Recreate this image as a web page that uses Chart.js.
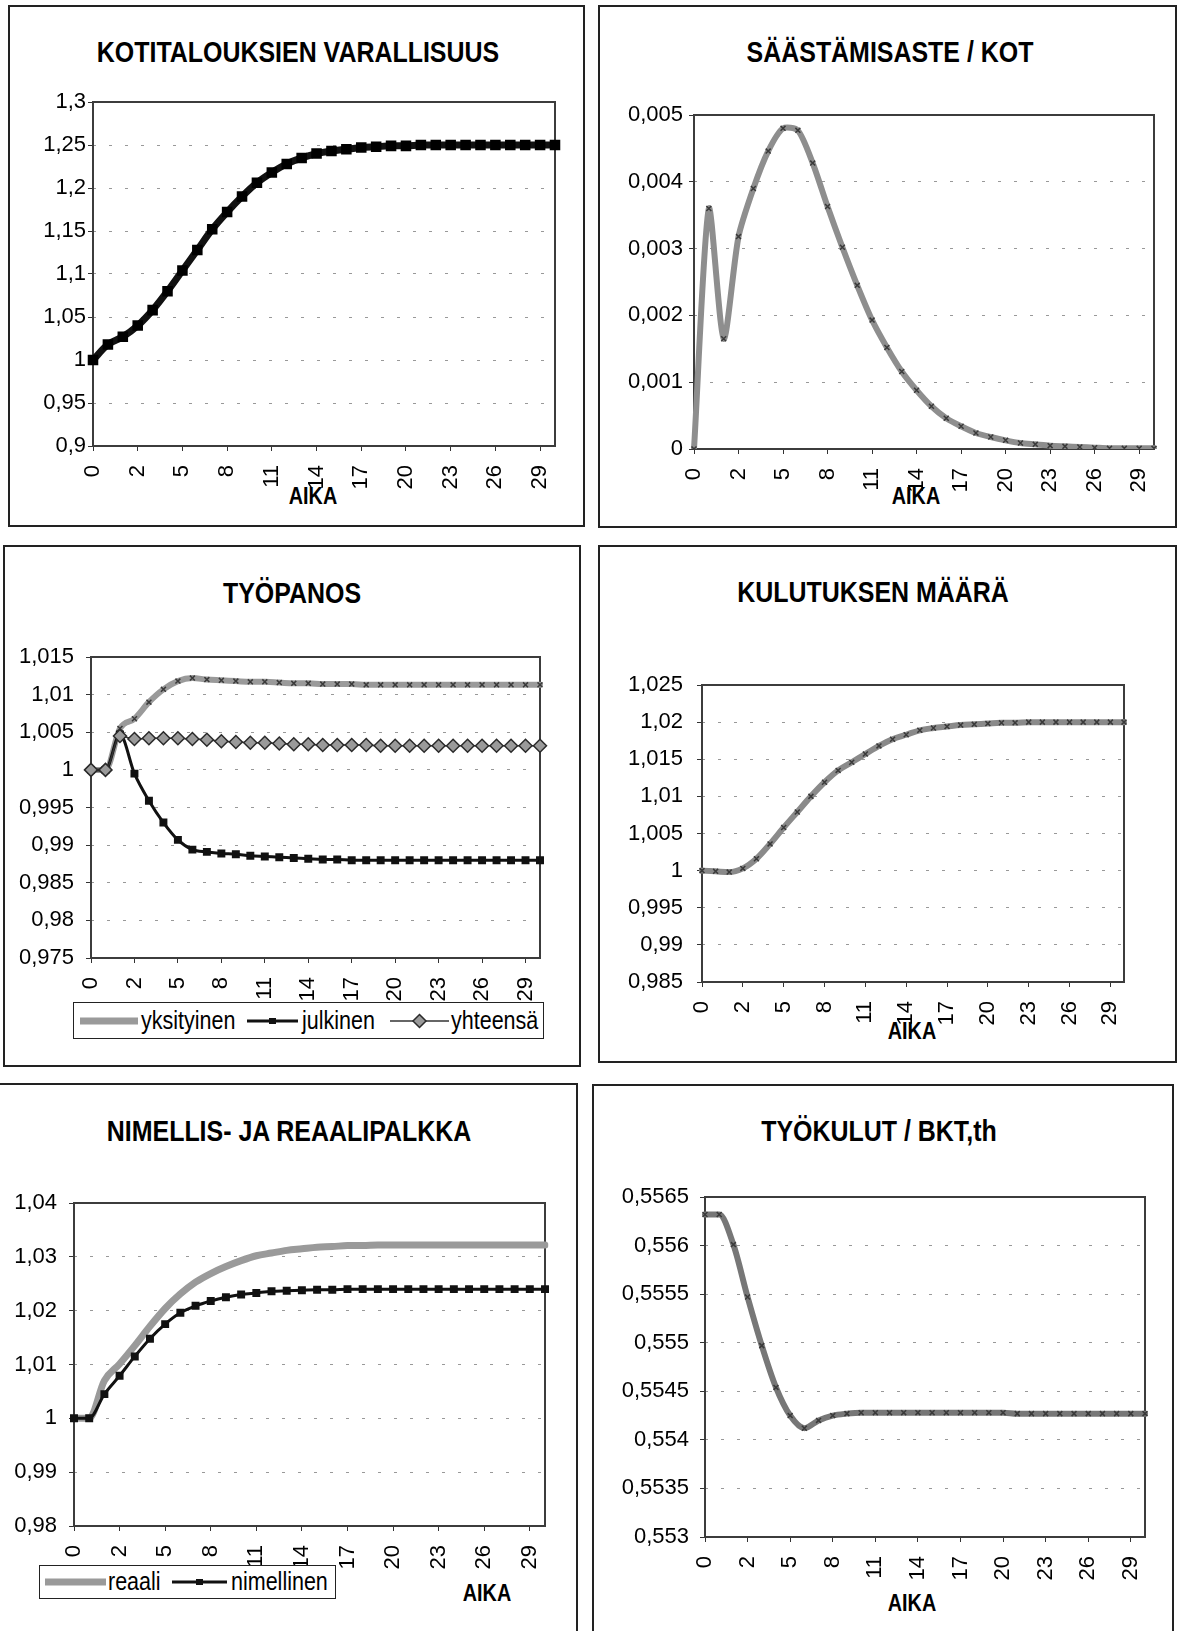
<!DOCTYPE html>
<html lang="fi">
<head>
<meta charset="utf-8">
<title>Simulointitulokset</title>
<script src="https://cdn.jsdelivr.net/npm/chart.js@4.4.1/dist/chart.umd.min.js"></script>
<style>
  html, body { margin:0; padding:0; background:#fff; }
  #page { position:relative; width:1180px; height:1631px; overflow:hidden; background:#fff;
          font-family:"Liberation Sans", Arial, Helvetica, sans-serif; color:#000; }
  .panel { position:absolute; border:2px solid #222; box-sizing:border-box; }
  .title { position:absolute; font-weight:bold; font-size:29px; white-space:nowrap;
           transform:translate(-50%,-50%) scaleX(0.86); line-height:1; }
  .axis-title { position:absolute; font-weight:bold; font-size:23px; white-space:nowrap;
                transform:translate(-50%,-50%) scaleX(0.86); line-height:1; }
  canvas { position:absolute; }
  .legend { position:absolute; border:1.5px solid #222; box-sizing:border-box; background:#fff;
            z-index:2; font-size:25px; }
  .legend .sw { position:absolute; top:50%; transform:translateY(-50%); line-height:0; }
  .legend .lb { position:absolute; top:50%; transform:translateY(-52%) scaleX(0.86);
                transform-origin:left center; line-height:1; white-space:nowrap; }
</style>
</head>
<body>
<div id="page"></div>
<script>
// Period index shown on every x axis (label printed for every third period)
const periods = ['0','0','1','2','3','4','5','6','7','8','9','10','11','12','13','14','15',
                 '16','17','18','19','20','21','22','23','24','25','26','27','28','29','30'];

// Kotitalouksien varallisuus
const varallisuus = [1.000, 1.018, 1.027, 1.040, 1.058, 1.080, 1.104, 1.128, 1.152, 1.172, 1.190,
                     1.206, 1.218, 1.228, 1.235, 1.240, 1.243, 1.245, 1.247, 1.248, 1.249, 1.249,
                     1.250, 1.250, 1.250, 1.250, 1.250, 1.250, 1.250, 1.250, 1.250, 1.250];
const varallisuusTicks  = [0.9, 0.95, 1, 1.05, 1.1, 1.15, 1.2, 1.25, 1.3];
const varallisuusLabels = ['0,9','0,95','1','1,05','1,1','1,15','1,2','1,25','1,3'];

// Säästämisaste / kotitaloudet
const saastamisaste = [0, 0.00360, 0.00165, 0.00318, 0.00390, 0.00446, 0.00480, 0.00477, 0.00428,
                       0.00363, 0.00302, 0.00245, 0.00193, 0.00152, 0.00116, 0.00088, 0.00064,
                       0.00046, 0.00034, 0.00024, 0.00018, 0.00013, 0.00009, 0.00007, 0.00005,
                       0.00004, 0.00003, 0.00002, 0.00001, 0.00001, 0.00001, 0.00001];
const saastamisTicks  = [0, 0.001, 0.002, 0.003, 0.004, 0.005];
const saastamisLabels = ['0','0,001','0,002','0,003','0,004','0,005'];

// Työpanos
const yksityinen = [1.0000, 1.0000, 1.0055, 1.0068, 1.0090, 1.0107, 1.0118, 1.0122, 1.0120, 1.0119,
                    1.0118, 1.0117, 1.0117, 1.0116, 1.0115, 1.0115, 1.0114, 1.0114, 1.0114, 1.0113,
                    1.0113, 1.0113, 1.0113, 1.0113, 1.0113, 1.0113, 1.0113, 1.0113, 1.0113, 1.0113,
                    1.0113, 1.0113];
const julkinen   = [1.0000, 1.0000, 1.0047, 0.9995, 0.9959, 0.9930, 0.9907, 0.9894, 0.9891, 0.9889,
                    0.9888, 0.9886, 0.9885, 0.9884, 0.9883, 0.9882, 0.9881, 0.9881, 0.9880, 0.9880,
                    0.9880, 0.9880, 0.9880, 0.9880, 0.9880, 0.9880, 0.9880, 0.9880, 0.9880, 0.9880,
                    0.9880, 0.9880];
const yhteensa   = [1.0000, 1.0000, 1.0045, 1.0041, 1.0042, 1.0042, 1.0042, 1.0041, 1.0040, 1.0038,
                    1.0037, 1.0036, 1.0036, 1.0035, 1.0034, 1.0034, 1.0033, 1.0033, 1.0033, 1.0033,
                    1.0032, 1.0032, 1.0032, 1.0032, 1.0032, 1.0032, 1.0032, 1.0032, 1.0032, 1.0032,
                    1.0032, 1.0032];
const tyopanosTicks  = [0.975, 0.98, 0.985, 0.99, 0.995, 1, 1.005, 1.01, 1.015];
const tyopanosLabels = ['0,975','0,98','0,985','0,99','0,995','1','1,005','1,01','1,015'];

// Kulutuksen määrä
const kulutus = [1.0000, 0.9999, 0.9998, 1.0003, 1.0016, 1.0036, 1.0058, 1.0079, 1.0100, 1.0119,
                 1.0135, 1.0146, 1.0157, 1.0168, 1.0177, 1.0183, 1.0189, 1.0192, 1.0194, 1.0196,
                 1.0197, 1.0198, 1.0199, 1.0199, 1.0200, 1.0200, 1.0200, 1.0200, 1.0200, 1.0200,
                 1.0200, 1.0200];
const kulutusTicks  = [0.985, 0.99, 0.995, 1, 1.005, 1.01, 1.015, 1.02, 1.025];
const kulutusLabels = ['0,985','0,99','0,995','1','1,005','1,01','1,015','1,02','1,025'];

// Nimellis- ja reaalipalkka
const reaali     = [1.0000, 1.0000, 1.0070, 1.0101, 1.0135, 1.0171, 1.0204, 1.0231, 1.0253, 1.0269,
                    1.0282, 1.0293, 1.0302, 1.0307, 1.0312, 1.0315, 1.0318, 1.0319, 1.0321, 1.0321,
                    1.0322, 1.0322, 1.0322, 1.0322, 1.0322, 1.0322, 1.0322, 1.0322, 1.0322, 1.0322,
                    1.0322, 1.0322];
const nimellinen = [1.0000, 1.0000, 1.0045, 1.0079, 1.0115, 1.0148, 1.0175, 1.0196, 1.0209, 1.0218,
                    1.0225, 1.0230, 1.0233, 1.0236, 1.0237, 1.0238, 1.0239, 1.0239, 1.0240, 1.0240,
                    1.0240, 1.0240, 1.0240, 1.0240, 1.0240, 1.0240, 1.0240, 1.0240, 1.0240, 1.0240,
                    1.0240, 1.0240];
const palkkaTicks  = [0.98, 0.99, 1, 1.01, 1.02, 1.03, 1.04];
const palkkaLabels = ['0,98','0,99','1','1,01','1,02','1,03','1,04'];

// Työkulut / BKT
const tyokulut = [0.55632, 0.55632, 0.55601, 0.55547, 0.55497, 0.55454, 0.55425, 0.55412, 0.55420,
                  0.55425, 0.55427, 0.55428, 0.55428, 0.55428, 0.55428, 0.55428, 0.55428, 0.55428,
                  0.55428, 0.55428, 0.55428, 0.55428, 0.55427, 0.55427, 0.55427, 0.55427, 0.55427,
                  0.55427, 0.55427, 0.55427, 0.55427, 0.55427];
const tyokulutTicks  = [0.553, 0.5535, 0.554, 0.5545, 0.555, 0.5555, 0.556, 0.5565];
const tyokulutLabels = ['0,553','0,5535','0,554','0,5545','0,555','0,5555','0,556','0,5565'];

const FONT = '"Liberation Sans", Arial, Helvetica, sans-serif';
const TICK_SIZE = 22;
const AX_W = 110, AX_H = 75, PAD_T = 45, PAD_R = 45;
const page = document.getElementById('page');

function addEl(cls, css) {
  const d = document.createElement('div');
  d.className = cls;
  Object.assign(d.style, css);
  page.appendChild(d);
  return d;
}
function panel(l, t, r, b) {
  addEl('panel', { left: l + 'px', top: t + 'px', width: (r - l) + 'px', height: (b - t) + 'px' });
}
function text(cls, str, x, y) {
  addEl(cls, { left: x + 'px', top: y + 'px' }).textContent = str;
}

// Plot-area frame
const framePlugin = {
  id: 'frame',
  beforeDatasetsDraw(chart) {
    const { ctx, chartArea: a } = chart;
    ctx.save();
    ctx.strokeStyle = '#3c3c3c';
    ctx.lineWidth = 2;
    ctx.strokeRect(a.left, a.top, a.right - a.left, a.bottom - a.top);
    ctx.restore();
  }
};

function lineChart(rect, yVals, yLabels, datasets) {
  const c = document.createElement('canvas');
  const W = rect.R - rect.L + AX_W + PAD_R;
  const H = rect.B - rect.T + PAD_T + AX_H;
  c.width = W; c.height = H;
  c.style.left = (rect.L - AX_W) + 'px';
  c.style.top = (rect.T - PAD_T) + 'px';
  c.style.width = W + 'px';
  c.style.height = H + 'px';
  page.appendChild(c);
  return new Chart(c, {
    type: 'line',
    data: { labels: periods, datasets },
    plugins: [framePlugin],
    options: {
      responsive: false,
      animation: false,
      devicePixelRatio: 1,
      layout: { padding: { left: 0, top: PAD_T, right: PAD_R, bottom: 0 } },
      plugins: { legend: { display: false }, tooltip: { enabled: false }, title: { display: false } },
      elements: { line: { cubicInterpolationMode: 'monotone', borderCapStyle: 'round', borderJoinStyle: 'round' } },
      scales: {
        x: {
          type: 'category',
          offset: false,
          grid: { display: true, drawOnChartArea: false, drawTicks: true, tickLength: 5,
                  tickColor: '#333', tickWidth: 1 },
          border: { display: false },
          ticks: {
            autoSkip: false, minRotation: 90, maxRotation: 90, padding: 14, color: '#000',
            font: { family: FONT, size: TICK_SIZE },
            callback: (v, i) => (i % 3 === 0 ? periods[i] : null)
          },
          afterFit: s => { s.height = AX_H; }
        },
        y: {
          min: yVals[0],
          max: yVals[yVals.length - 1],
          afterBuildTicks: s => { s.ticks = yVals.map(v => ({ value: v })); },
          grid: { color: '#999', lineWidth: 1, drawTicks: true, tickLength: 5,
                  tickColor: '#333', tickWidth: 1, tickBorderDash: [] },
          border: { display: false, dash: [3, 13] },
          ticks: {
            padding: rect.pad, color: '#000', font: { family: FONT, size: TICK_SIZE },
            callback: (v, i) => yLabels[i]
          },
          afterFit: s => { s.width = AX_W; }
        }
      }
    }
  });
}

function greyLine(data, color, width, radius) {
  return {
    data, borderColor: color, borderWidth: width,
    pointStyle: 'crossRot', pointRadius: radius, pointBorderColor: '#3a3a3a',
    pointBorderWidth: 1.5, pointBackgroundColor: 'rgba(0,0,0,0)', pointHoverRadius: 0
  };
}

// ---- panel frames ----
panel(8, 5, 585, 527);
panel(598, 5, 1177, 528);
panel(3, 545, 581, 1067);
panel(598, 545, 1177, 1063);
panel(-2, 1083, 578, 1640);
panel(592, 1084, 1174, 1640);

// ---- titles ----
text('title', 'KOTITALOUKSIEN VARALLISUUS', 298, 52);
text('title', 'SÄÄSTÄMISASTE / KOT', 890, 52);
text('title', 'TYÖPANOS', 292, 593);
text('title', 'KULUTUKSEN MÄÄRÄ', 873, 592);
text('title', 'NIMELLIS- JA REAALIPALKKA', 289, 1131);
text('title', 'TYÖKULUT / BKT,th', 879, 1131);

// ---- x-axis titles ----
text('axis-title', 'AIKA', 313, 496);
text('axis-title', 'AIKA', 916, 496);
text('axis-title', 'AIKA', 912, 1031);
text('axis-title', 'AIKA', 487, 1593);
text('axis-title', 'AIKA', 912, 1603);

// ---- charts ----
lineChart({ L: 93, T: 102, R: 555, B: 446, pad: 2 }, varallisuusTicks, varallisuusLabels, [
  { data: varallisuus, borderColor: '#111', borderWidth: 7, pointStyle: 'rect', pointRadius: 2.5,
    pointBackgroundColor: '#000', pointBorderColor: '#000', pointHoverRadius: 0 }
]);

lineChart({ L: 694, T: 115, R: 1154, B: 449, pad: 6 }, saastamisTicks, saastamisLabels, [
  Object.assign(greyLine(saastamisaste, '#8e8e8e', 6, 3.5),
                { cubicInterpolationMode: 'default', tension: 0.25 })
]);

lineChart({ L: 91, T: 657, R: 540, B: 958, pad: 12 }, tyopanosTicks, tyopanosLabels, [
  { data: yhteensa, order: 1, borderColor: '#333', borderWidth: 1.5, pointStyle: 'rectRot',
    pointRadius: 6.5, pointBackgroundColor: '#9a9a9a', pointBorderColor: '#2a2a2a',
    pointBorderWidth: 1.5, pointHoverRadius: 0 },
  { data: julkinen, order: 2, borderColor: '#111', borderWidth: 3, pointStyle: 'rect',
    pointRadius: 3.5, pointBackgroundColor: '#111', pointBorderColor: '#111', pointHoverRadius: 0 },
  Object.assign(greyLine(yksityinen, '#9a9a9a', 6, 3.5), { order: 3 })
]);

lineChart({ L: 702, T: 685, R: 1124, B: 982, pad: 14 }, kulutusTicks, kulutusLabels, [
  greyLine(kulutus, '#8a8a8a', 6, 3.5)
]);

lineChart({ L: 74, T: 1203, R: 545, B: 1526, pad: 12 }, palkkaTicks, palkkaLabels, [
  { data: nimellinen, order: 1, borderColor: '#111', borderWidth: 3, pointStyle: 'rect',
    pointRadius: 3.5, pointBackgroundColor: '#111', pointBorderColor: '#111', pointHoverRadius: 0 },
  Object.assign(greyLine(reaali, '#9a9a9a', 7, 0), { order: 2 })
]);

lineChart({ L: 705, T: 1197, R: 1145, B: 1537, pad: 11 }, tyokulutTicks, tyokulutLabels, [
  greyLine(tyokulut, '#777', 6, 3.5)
]);

// ---- legends ----
function legend(l, t, w, h, items) {
  const box = addEl('legend', { left: l + 'px', top: t + 'px', width: w + 'px', height: h + 'px' });
  items.forEach(it => {
    const s = document.createElement('span');
    s.className = 'sw';
    s.innerHTML = it.svg;
    s.style.left = it.sx + 'px';
    box.appendChild(s);
    const t = document.createElement('span');
    t.className = 'lb';
    t.textContent = it.label;
    t.style.left = it.tx + 'px';
    box.appendChild(t);
  });
}
const sw = {
  grey: w => `<svg width="${w}" height="16"><line x1="0" y1="8" x2="${w}" y2="8" stroke="#9a9a9a" stroke-width="7"/></svg>`,
  black: w => `<svg width="${w}" height="16"><line x1="0" y1="8" x2="${w}" y2="8" stroke="#111" stroke-width="3"/><rect x="${w / 2 - 3.5}" y="5" width="7" height="6" fill="#111"/></svg>`,
  diamond: w => `<svg width="${w}" height="16"><line x1="0" y1="8" x2="${w}" y2="8" stroke="#333" stroke-width="1.5"/><polygon points="${w / 2},1.5 ${w / 2 + 6.5},8 ${w / 2},14.5 ${w / 2 - 6.5},8" fill="#9a9a9a" stroke="#2a2a2a" stroke-width="1.5"/></svg>`
};
legend(73, 1002, 471, 37, [
  { svg: sw.grey(58), sx: 6, sw: 58, label: 'yksityinen', tx: 67 },
  { svg: sw.black(51), sx: 173, sw: 51, label: 'julkinen', tx: 228 },
  { svg: sw.diamond(59), sx: 316, sw: 59, label: 'yhteensä', tx: 377 }
]);
legend(39, 1565, 297, 34, [
  { svg: sw.grey(61), sx: 5, sw: 61, label: 'reaali', tx: 68 },
  { svg: sw.black(55), sx: 132, sw: 55, label: 'nimellinen', tx: 191 }
]);
</script>
</body>
</html>
